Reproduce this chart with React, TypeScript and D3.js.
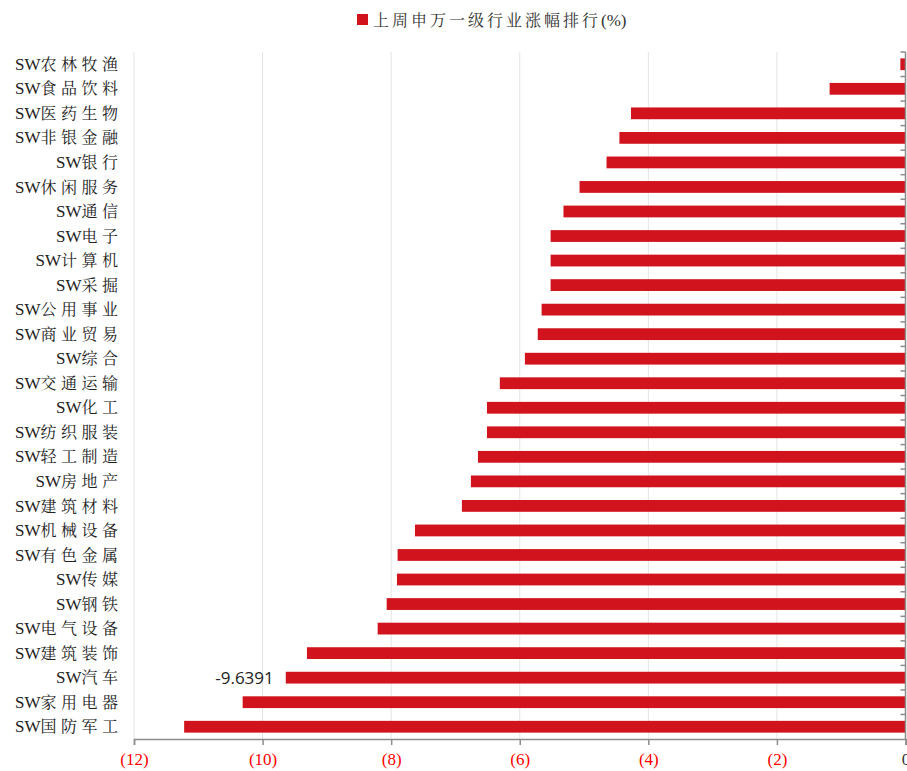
import React, { useEffect, useRef } from 'react';
import * as d3 from 'd3';

const industries = [
  'SW农林牧渔', 'SW食品饮料', 'SW医药生物', 'SW非银金融', 'SW银行', 'SW休闲服务', 'SW通信',
  'SW电子', 'SW计算机', 'SW采掘', 'SW公用事业', 'SW商业贸易', 'SW综合', 'SW交通运输',
  'SW化工', 'SW纺织服装', 'SW轻工制造', 'SW房地产', 'SW建筑材料', 'SW机械设备', 'SW有色金属',
  'SW传媒', 'SW钢铁', 'SW电气设备', 'SW建筑装饰', 'SW汽车', 'SW家用电器', 'SW国防军工'
];
const changes = [
  -0.08, -1.18, -4.27, -4.45, -4.65, -5.07, -5.32,
  -5.52, -5.52, -5.52, -5.66, -5.72, -5.92, -6.31,
  -6.51, -6.51, -6.65, -6.76, -6.9, -7.63, -7.9,
  -7.91, -8.07, -8.21, -9.31, -9.6391, -10.31, -11.22
];
const xTicks = [-12, -10, -8, -6, -4, -2, 0];
const labelled = ['SW汽车'];
const legendText = '上周申万一级行业涨幅排行';

const W = 907, H = 771;
const margin = { top: 52, right: 1, bottom: 32, left: 134 };
const red = '#d0131c';
const serif = '"Liberation Serif", "Noto Serif CJK SC", "Noto Sans CJK SC", serif';

export default function App() {
  const ref = useRef<SVGSVGElement>(null);

  useEffect(() => {
    document.body.style.margin = '0';
    const svg = d3.select(ref.current);
    svg.selectAll('*').remove();

    const x = d3.scaleLinear().domain([-12, 0]).range([margin.left, W - margin.right - 0.5]);
    const y = d3.scaleBand().domain(industries).range([margin.top, H - margin.bottom]).paddingInner(0.52).paddingOuter(0.26);
    const step = y.step();

    // gridlines
    svg.append('g').selectAll('line').data(xTicks.slice(0, -1)).join('line')
      .attr('x1', d => x(d)).attr('x2', d => x(d))
      .attr('y1', margin.top).attr('y2', H - margin.bottom)
      .attr('stroke', '#e4e4e4').attr('stroke-width', 1);

    // bars
    svg.append('g').selectAll('rect').data(industries).join('rect')
      .attr('x', (d, i) => x(changes[i]))
      .attr('y', d => y(d)!)
      .attr('width', (d, i) => x(0) - x(changes[i]))
      .attr('height', y.bandwidth())
      .attr('fill', red);

    // bottom axis
    const xAxis = d3.axisBottom(x).tickValues(xTicks).tickSize(6)
      .tickFormat(d => (+d === 0 ? '0' : `(${Math.abs(+d)})`));
    const gx = svg.append('g').attr('transform', `translate(0,${H - margin.bottom})`).call(xAxis);
    gx.select('.domain').attr('stroke', '#8c8c8c').attr('stroke-width', 1.5);
    gx.selectAll('.tick line').attr('stroke', '#8c8c8c').attr('stroke-width', 1.5);
    gx.selectAll('.tick text')
      .attr('y', 14)
      .attr('font-family', serif).attr('font-size', 17)
      .attr('fill', (d: any) => (+d === 0 ? '#333' : '#ff0000'));

    // right vertical axis with band ticks
    const x0 = x(0);
    svg.append('line').attr('x1', x0).attr('x2', x0)
      .attr('y1', margin.top).attr('y2', H - margin.bottom)
      .attr('stroke', '#8c8c8c').attr('stroke-width', 1.5);
    svg.append('g').selectAll('line').data(industries).join('line')
      .attr('x1', x0 - 5).attr('x2', x0)
      .attr('y1', d => y(d)! - (step - y.bandwidth()) / 2)
      .attr('y2', d => y(d)! - (step - y.bandwidth()) / 2)
      .attr('stroke', '#8c8c8c').attr('stroke-width', 1.5);

    // category labels: tight "SW", spaced CJK
    const lbl = svg.append('g').selectAll('text').data(industries).join('text')
      .attr('x', 122.5)
      .attr('y', d => y(d)! + y.bandwidth() / 2)
      .attr('dy', '0.35em')
      .attr('text-anchor', 'end')
      .attr('font-family', serif).attr('font-size', 16)
      .attr('fill', '#222');
    lbl.append('tspan').attr('font-size', 17).text('SW');
    lbl.append('tspan').attr('letter-spacing', 4.5).text(d => d.slice(2));

    // data label
    svg.append('g').selectAll('text').data(labelled).join('text')
      .attr('x', d => x(changes[industries.indexOf(d)]) - 12)
      .attr('y', d => y(d)! + y.bandwidth() / 2)
      .attr('dy', '0.35em')
      .attr('text-anchor', 'end')
      .attr('font-family', '"Open Sans", "Liberation Sans", sans-serif').attr('font-size', 17)
      .attr('fill', '#222')
      .text(d => String(changes[industries.indexOf(d)]));

    // legend
    const lg = svg.append('g').attr('transform', 'translate(357,14)');
    lg.append('rect').attr('width', 11).attr('height', 11).attr('fill', red);
    const lt = lg.append('text').attr('x', 16).attr('y', 11.5)
      .attr('font-family', serif).attr('font-size', 16)
      .attr('fill', '#333');
    lt.append('tspan').attr('letter-spacing', 3).text(legendText);
    lt.append('tspan').attr('font-size', 17).text('(%)');
  }, []);

  return <svg ref={ref} width={W} height={H} style={{ display: 'block', background: '#fff' }} />;
}
